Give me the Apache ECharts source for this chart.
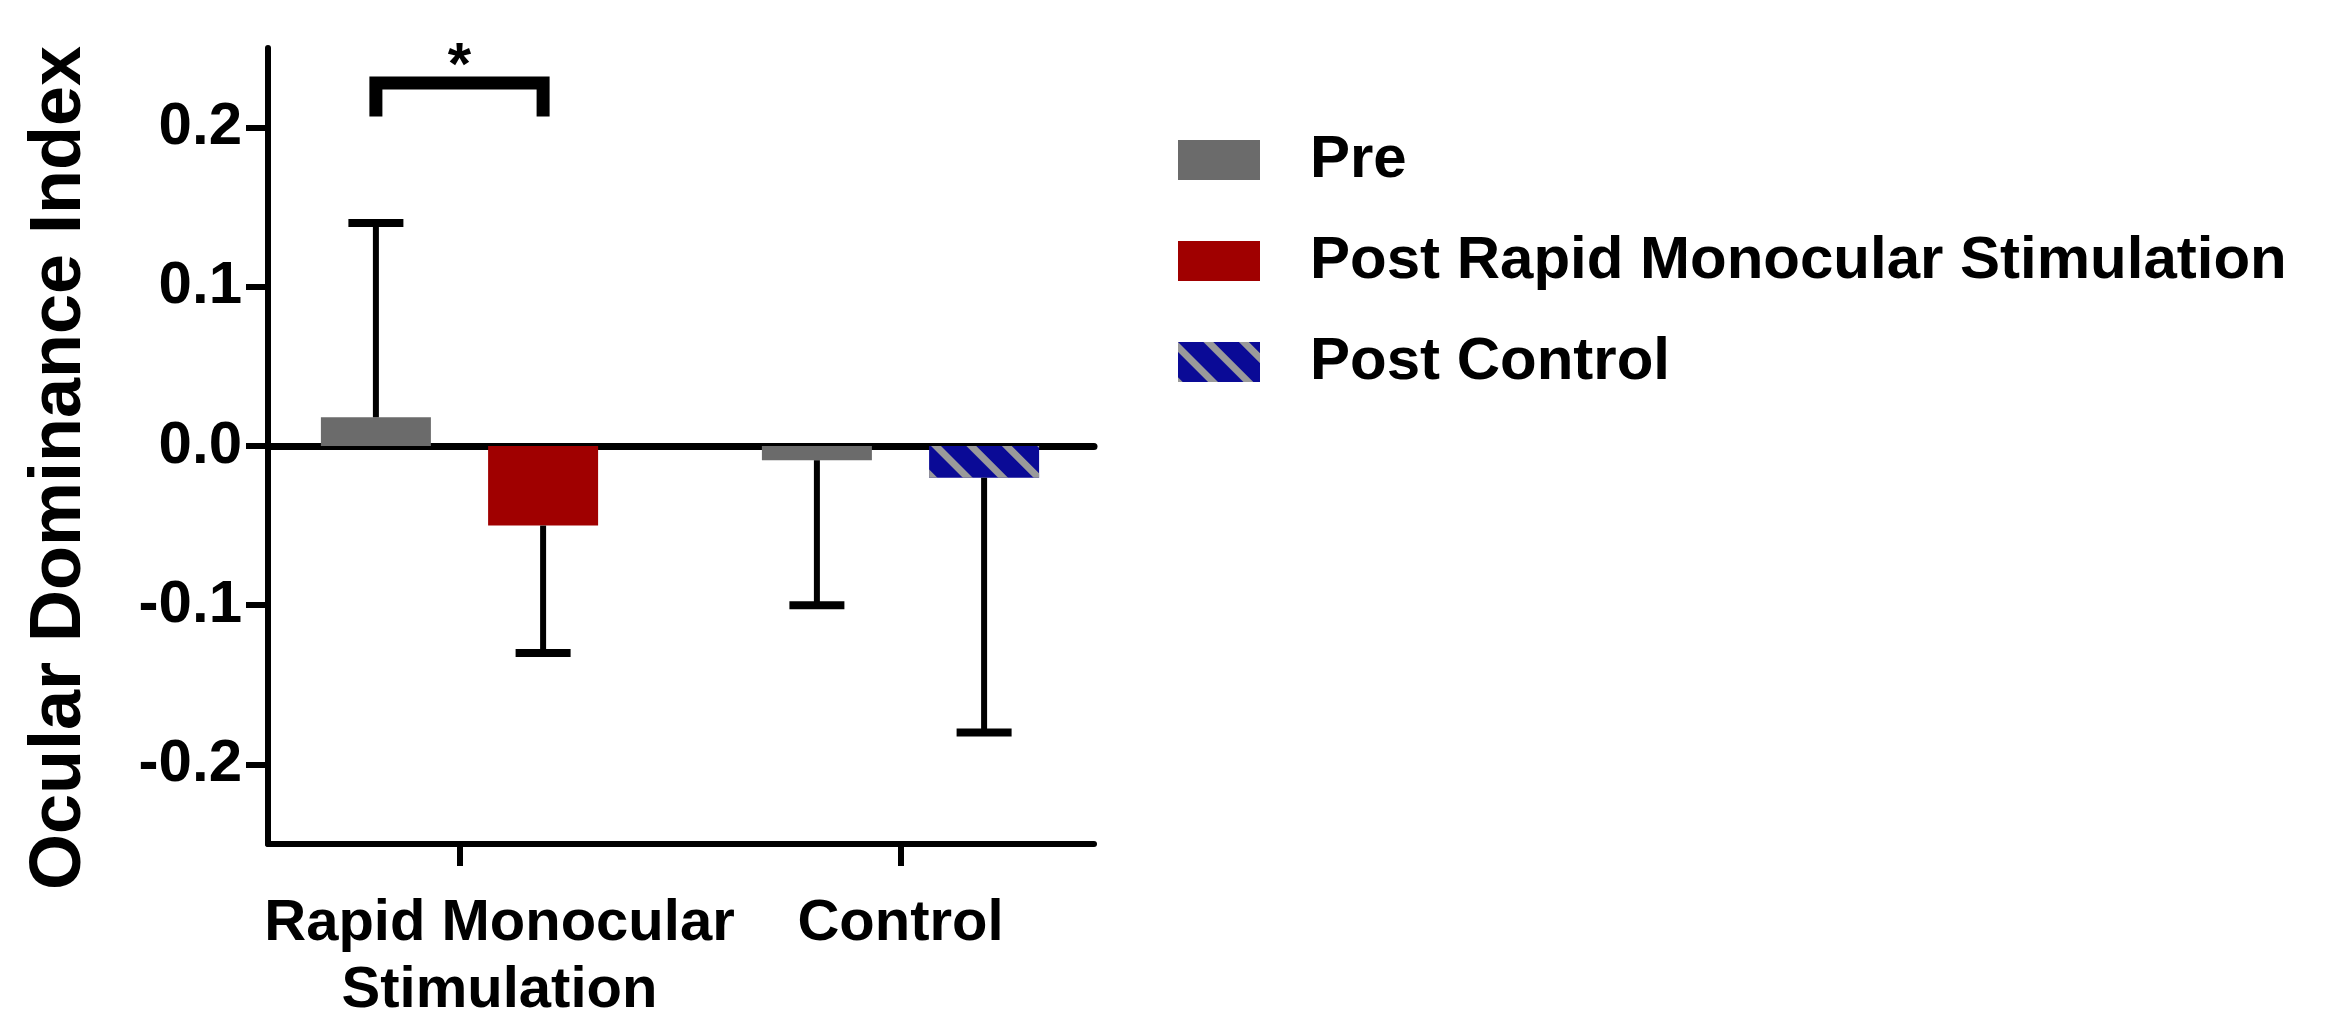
<!DOCTYPE html>
<html>
<head>
<meta charset="utf-8">
<script src="https://cdn.jsdelivr.net/npm/echarts@6/dist/echarts.min.js"></script>
<style>
html,body{margin:0;padding:0;background:#fff;}
#chart{width:2331px;height:1024px;}
</style>
</head>
<body>
<div id="chart"></div>
<script>
// ---- data ----
const categories = ['Rapid Monocular\nStimulation', 'Control'];
const seriesNames = ['Pre', 'Post Rapid Monocular Stimulation', 'Post Control'];
const preMean = [0.018, -0.009];
const postRmsMean = [-0.05, null];
const postControlMean = [null, -0.02];
const preErrEnd = [0.14, -0.10];
const postErrEnd = [-0.13, -0.18];
const yTicks = [-0.2, -0.1, 0, 0.1, 0.2];
const yMin = -0.25, yMax = 0.25;
const sigCategory = 0, sigTop = 0.228, sigLeg = 0.207, sigLabel = '*';

// ---- style ----
const FONT = '"Liberation Sans", Arial, sans-serif';
const BAR_W = 110, GAP_RATIO = 0.52, CAP_W = 55;
const SLOT = BAR_W * (1 + GAP_RATIO);

const postMean = postRmsMean.map((v, i) => v != null ? v : postControlMean[i]);
const errData = [];
categories.forEach((c, i) => {
  errData.push([i, preMean[i], preErrEnd[i], 0]);
  errData.push([i, postMean[i], postErrEnd[i], 1]);
});
const dash = a => a.map(v => v == null ? '-' : v);

const chart = echarts.init(document.getElementById('chart'));
chart.setOption({
  backgroundColor: '#fff',
  animation: false,
  grid: [
    {left: 268, top: 48, width: 826, height: 796},
    {left: 239, top: 48, width: 882, height: 796}
  ],
  xAxis: [
    {gridIndex: 0, type: 'value', min: 0, max: 1, axisLine: {show: true, onZero: false, lineStyle: {color: '#000', width: 6}},
     axisTick: {show: false}, axisLabel: {show: false}, splitLine: {show: false}},
    {gridIndex: 0, type: 'value', min: 0, max: 1, axisLine: {show: true, onZero: true, lineStyle: {color: '#000', width: 7}},
     axisTick: {show: false}, axisLabel: {show: false}, splitLine: {show: false}},
    {gridIndex: 1, type: 'category',
     data: [{value: categories[0], textStyle: {padding: [0, 0, 0, 80]}}, {value: categories[1]}],
     axisLine: {show: false, onZero: false},
     axisTick: {show: true, alignWithLabel: true, length: 22, lineStyle: {color: '#000', width: 6}},
     axisLabel: {interval: 0, margin: 46, fontSize: 58, fontWeight: 'bold', fontFamily: FONT, color: '#000', lineHeight: 67}}
  ],
  yAxis: [
    {gridIndex: 0, type: 'value', min: yMin, max: yMax,
     name: 'Ocular Dominance Index', nameLocation: 'middle', nameGap: 172,
     nameTextStyle: {fontSize: 72, fontWeight: 'bold', fontFamily: FONT, color: '#000', padding: [0, 44, 0, 0]},
     axisLine: {show: true, onZero: false, lineStyle: {color: '#000', width: 6}},
     axisTick: {show: true, length: 22, customValues: yTicks, lineStyle: {color: '#000', width: 6}},
     axisLabel: {customValues: yTicks, formatter: v => v.toFixed(1), margin: 26, fontSize: 60, fontWeight: 'bold', fontFamily: FONT, color: '#000'},
     splitLine: {show: false}},
    {gridIndex: 1, type: 'value', min: yMin, max: yMax, show: false, splitLine: {show: false}}
  ],
  legend: {
    data: seriesNames, orient: 'vertical', left: 1173, top: 125,
    itemWidth: 82, itemHeight: 40, itemGap: 41, icon: 'rect',
    textStyle: {fontSize: 60, fontWeight: 'bold', fontFamily: FONT, color: '#000', padding: [0, 0, 0, 45]}
  },
  series: [
    {name: seriesNames[0], type: 'bar', xAxisIndex: 2, yAxisIndex: 1, data: dash(preMean),
     barWidth: BAR_W, barGap: (GAP_RATIO * 100) + '%', itemStyle: {color: '#6b6b6b'}},
    {name: seriesNames[1], type: 'bar', xAxisIndex: 2, yAxisIndex: 1, stack: 'post', data: dash(postRmsMean),
     barWidth: BAR_W, barGap: (GAP_RATIO * 100) + '%', itemStyle: {color: '#a00000'}},
    {name: seriesNames[2], type: 'bar', xAxisIndex: 2, yAxisIndex: 1, stack: 'post', data: dash(postControlMean),
     barWidth: BAR_W, barGap: (GAP_RATIO * 100) + '%',
     itemStyle: {color: '#0a0a96', decal: {symbol: 'rect', symbolSize: 1, color: '#9a9a9a', dashArrayX: [1, 0], dashArrayY: [7, 18], rotation: Math.PI / 4}}},
    {name: 'errors', type: 'custom', xAxisIndex: 2, yAxisIndex: 1, data: errData, z: 5,
     encode: {x: 0, y: [1, 2]},
     renderItem: function (params, api) {
       const x0 = api.coord([api.value(0), 0])[0];
       const x = x0 + (api.value(3) - 0.5) * SLOT;
       const y1 = api.coord([api.value(0), api.value(1)])[1];
       const y2 = api.coord([api.value(0), api.value(2)])[1];
       return {type: 'group', children: [
         {type: 'line', shape: {x1: x, y1: y1, x2: x, y2: y2}, style: {stroke: '#000', lineWidth: 6}},
         {type: 'line', shape: {x1: x - CAP_W / 2, y1: y2, x2: x + CAP_W / 2, y2: y2}, style: {stroke: '#000', lineWidth: 8}}
       ]};
     }},
    {name: 'sig', type: 'custom', xAxisIndex: 2, yAxisIndex: 1, data: [[sigCategory, sigTop, sigLeg]], z: 5,
     encode: {x: 0, y: [1, 2]},
     renderItem: function (params, api) {
       const x0 = api.coord([api.value(0), 0])[0];
       const yt = api.coord([api.value(0), api.value(1)])[1];
       const yl = api.coord([api.value(0), api.value(2)])[1];
       const xa = x0 - SLOT / 2, xb = x0 + SLOT / 2;
       return {type: 'group', children: [
         {type: 'polyline', shape: {points: [[xa, yl], [xa, yt], [xb, yt], [xb, yl]]}, style: {stroke: '#000', lineWidth: 13, fill: null, lineJoin: 'miter'}},
         {type: 'text', x: x0, y: yt + 14, style: {text: sigLabel, fontSize: 60, fontWeight: 'bold', fontFamily: FONT, fill: '#000', align: 'center', verticalAlign: 'bottom'}}
       ]};
     }}
  ]
});
</script>
</body>
</html>
